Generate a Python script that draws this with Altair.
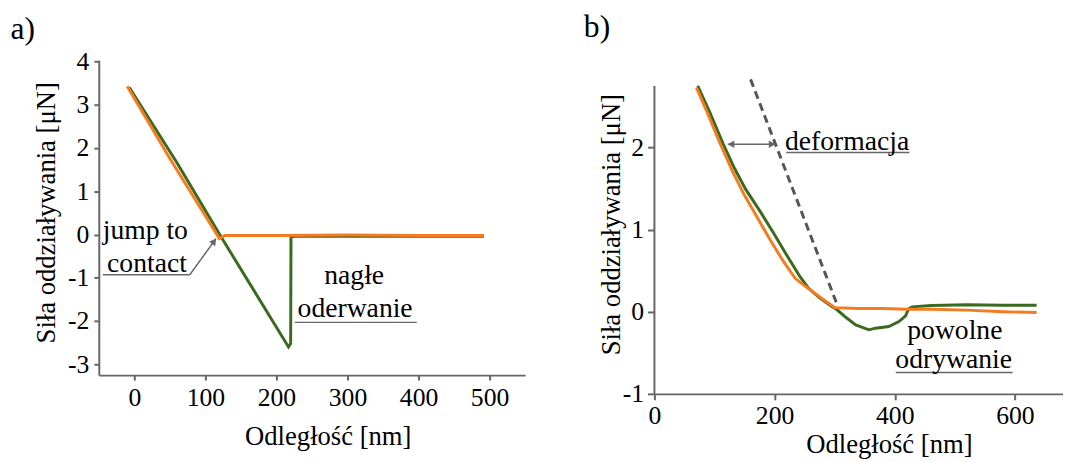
import altair as alt
import pandas as pd

FONT = "Liberation Serif, Times New Roman, Times, serif"
ORANGE = "#f47b20"
GREEN = "#3b6a1f"
GRAY = "#666666"

# ---------------- panel a) data ----------------
a_orange_x = [-10, 50, 119.7, 127, 200, 300, 400, 492]
a_orange_y = [3.43, 1.76, -0.09, -0.02, -0.02, -0.01, -0.02, -0.02]
a_green_x = [-7, 60, 122, 217, 220, 220.5, 226, 492]
a_green_y = [3.40, 1.66, -0.05, -2.60, -2.52, -0.06, -0.04, -0.04]
a_x_ticks = [0, 100, 200, 300, 400, 500]
a_y_ticks = [-3, -2, -1, 0, 1, 2, 3, 4]

# ---------------- panel b) data ----------------
b_green_x = [72, 92, 114, 133, 152, 177, 199, 220, 242, 256, 275, 294, 303, 319, 335,
             357, 368, 390, 407, 418, 423, 429, 461, 520, 580, 636]
b_green_y = [2.75, 2.43, 2.05, 1.75, 1.49, 1.21, 0.95, 0.69, 0.43, 0.29, 0.17, 0.07, 0.03,
             -0.07, -0.16, -0.22, -0.20, -0.18, -0.12, -0.05, 0.035, 0.06, 0.075, 0.085,
             0.08, 0.08]
b_orange_x = [70, 89, 108, 130, 149, 171, 193, 215, 234, 251, 259, 281, 300, 340, 380,
              420, 460, 520, 580, 636]
b_orange_y = [2.73, 2.41, 2.07, 1.71, 1.43, 1.15, 0.87, 0.61, 0.41, 0.31, 0.27, 0.15,
              0.05, 0.04, 0.04, 0.03, 0.03, 0.02, 0.0, -0.01]
b_x_ticks = [0, 200, 400, 600]
b_y_ticks = [-1, 0, 1, 2]

# annotations (data coordinates)
a_text_center = {"t": ["jump to", "contact", "nagłe", "oderwanie"],
                 "x": [15.5, 17.8, 309.4, 310.7],
                 "y": [-0.11, -0.86, -1.14, -1.90]}
a_underlines = {"x": [-44.4, 226], "x2": [78, 397.5], "y": [-0.93, -2.03]}
a_pointer = {"x": [78], "y": [-0.93], "x2": [115], "y2": [-0.094]}
a_head = {"x": [112.3], "y": [-0.155]}

b_text_left = {"t": ["deformacja"], "x": [217.3], "y": [1.97]}
b_text_center = {"t": ["powolne", "odrywanie"], "x": [500, 498], "y": [-0.33, -0.68]}
b_underlines = {"x": [219.5, 401.6], "x2": [424.3, 596], "y": [1.94, -0.74]}
b_arrow = {"x": [122], "x2": [201.4], "y": [2.04]}
b_head_left = {"x": [127.5], "y": [2.04]}
b_head_right = {"x": [195.9], "y": [2.04]}
b_dashed = {"x": [160], "y": [2.83], "x2": [305], "y2": [0.07]}
b_yaxis = {"x": [0], "y": [-1], "y2": [2.75]}

AXIS_TITLE_Y = "Siła oddziaływania [μN]"
AXIS_TITLE_X = "Odległość [nm]"


def line_df(xs, ys):
    return pd.DataFrame({"x": xs, "y": ys, "i": list(range(len(xs)))})


def build_panel(X, Y, layers_spec):
    layers = []
    for kind, data, opts in layers_spec:
        df = pd.DataFrame(data)
        base = alt.Chart(df)
        if kind == "line":
            layers.append(base.mark_line(color=opts["color"], strokeWidth=3).encode(
                x=X, y=Y, order="i:Q"))
        elif kind == "hrule":
            layers.append(base.mark_rule(color=GRAY, strokeWidth=1.5).encode(
                x=X, x2="x2:Q", y=Y))
        elif kind == "drule":
            layers.append(base.mark_rule(color=opts.get("color", GRAY),
                                         strokeWidth=opts.get("w", 1.5),
                                         strokeDash=opts.get("dash", [1, 0])).encode(
                x=X, x2="x2:Q", y=Y, y2="y2:Q"))
        elif kind == "vrule":
            layers.append(base.mark_rule(color=GRAY, strokeWidth=2).encode(
                x=X, y=Y, y2="y2:Q"))
        elif kind == "head":
            layers.append(base.mark_point(shape=opts["shape"], filled=True, size=60,
                                          angle=opts.get("angle", 0), color=GRAY,
                                          opacity=1).encode(x=X, y=Y))
        elif kind == "text":
            layers.append(base.mark_text(font=FONT, fontSize=28, align=opts["align"],
                                         baseline="alphabetic", color="black").encode(
                x=X, y=Y, text="t:N"))
    return alt.layer(*layers)


# ---------------- panel a ----------------
ax_a_x = alt.Axis(values=a_x_ticks, title=AXIS_TITLE_X, tickSize=5, labelPadding=5,
                  titleX=232, titleY=70, titleBaseline="alphabetic", titleAlign="center",
                  labelExpr="'' + datum.value")
ax_a_y = alt.Axis(values=a_y_ticks, title=AXIS_TITLE_Y, tickSize=5, labelPadding=5,
                  titleX=-44.5, titleY=154, titleBaseline="alphabetic", titleAngle=270,
                  titleAlign="center", labelExpr="'' + datum.value")
Xa = alt.X("x:Q", scale=alt.Scale(domain=[-50, 550], nice=False, zero=False), axis=ax_a_x)
Ya = alt.Y("y:Q", scale=alt.Scale(domain=[-3.25, 4.03], nice=False, zero=False), axis=ax_a_y)

panel_a = build_panel(Xa, Ya, [
    ("line", line_df(a_green_x, a_green_y), {"color": GREEN}),
    ("line", line_df(a_orange_x, a_orange_y), {"color": ORANGE}),
    ("hrule", a_underlines, {}),
    ("drule", a_pointer, {}),
    ("head", a_head, {"shape": "triangle-up", "angle": 36}),
    ("text", a_text_center, {"align": "center"}),
]).properties(
    width=432, height=319,
    title=alt.TitleParams(text="a)", anchor="start", frame="group", orient="top",
                          offset=22, dx=-89.5, dy=44.1, baseline="alphabetic", font=FONT,
                          fontSize=32, fontWeight="normal", color="black"))

# ---------------- panel b ----------------
ax_b_x = alt.Axis(values=b_x_ticks, title=AXIS_TITLE_X, tickSize=6, labelPadding=3.5,
                  titleX=237.6, titleY=59, titleBaseline="alphabetic", titleAlign="center",
                  labelExpr="'' + datum.value")
ax_b_y = alt.Axis(values=b_y_ticks, title=AXIS_TITLE_Y, tickSize=7, labelPadding=4,
                  domain=False, titleX=-35.7, titleY=166, titleBaseline="alphabetic",
                  titleAngle=270, titleAlign="center", labelExpr="'' + datum.value")
Xb = alt.X("x:Q", scale=alt.Scale(domain=[0, 680], nice=False, zero=False), axis=ax_b_x)
Yb = alt.Y("y:Q", scale=alt.Scale(domain=[-1, 3.062], nice=False, zero=False), axis=ax_b_y)

panel_b = build_panel(Xb, Yb, [
    ("vrule", b_yaxis, {}),
    ("drule", b_dashed, {"color": "#555555", "w": 3, "dash": [8, 5]}),
    ("line", line_df(b_green_x, b_green_y), {"color": GREEN}),
    ("line", line_df(b_orange_x, b_orange_y), {"color": ORANGE}),
    ("hrule", b_underlines, {}),
    ("hrule", b_arrow, {}),
    ("head", b_head_left, {"shape": "triangle-left"}),
    ("head", b_head_right, {"shape": "triangle-right"}),
    ("text", b_text_left, {"align": "left"}),
    ("text", b_text_center, {"align": "center"}),
]).properties(
    width=414, height=338,
    title=alt.TitleParams(text="b)", anchor="start", frame="group", orient="top",
                          offset=23.3, dx=-71.5, dy=31.8, baseline="alphabetic", font=FONT,
                          fontSize=32, fontWeight="normal", color="black"))

chart = alt.hconcat(panel_a, panel_b, spacing=59).properties(
    padding={"left": 2, "top": 0, "right": 0, "bottom": 0}
).configure_view(strokeWidth=0).configure_axis(
    grid=False, domainColor=GRAY, domainWidth=2, tickColor=GRAY, tickWidth=2,
    labelFont=FONT, labelFontSize=26, labelColor="black", labelFlush=False,
    titleFont=FONT, titleFontSize=27, titleFontWeight="normal", titleColor="black"
)

chart.save("out.html", embed_options={"renderer": "svg", "actions": False})
